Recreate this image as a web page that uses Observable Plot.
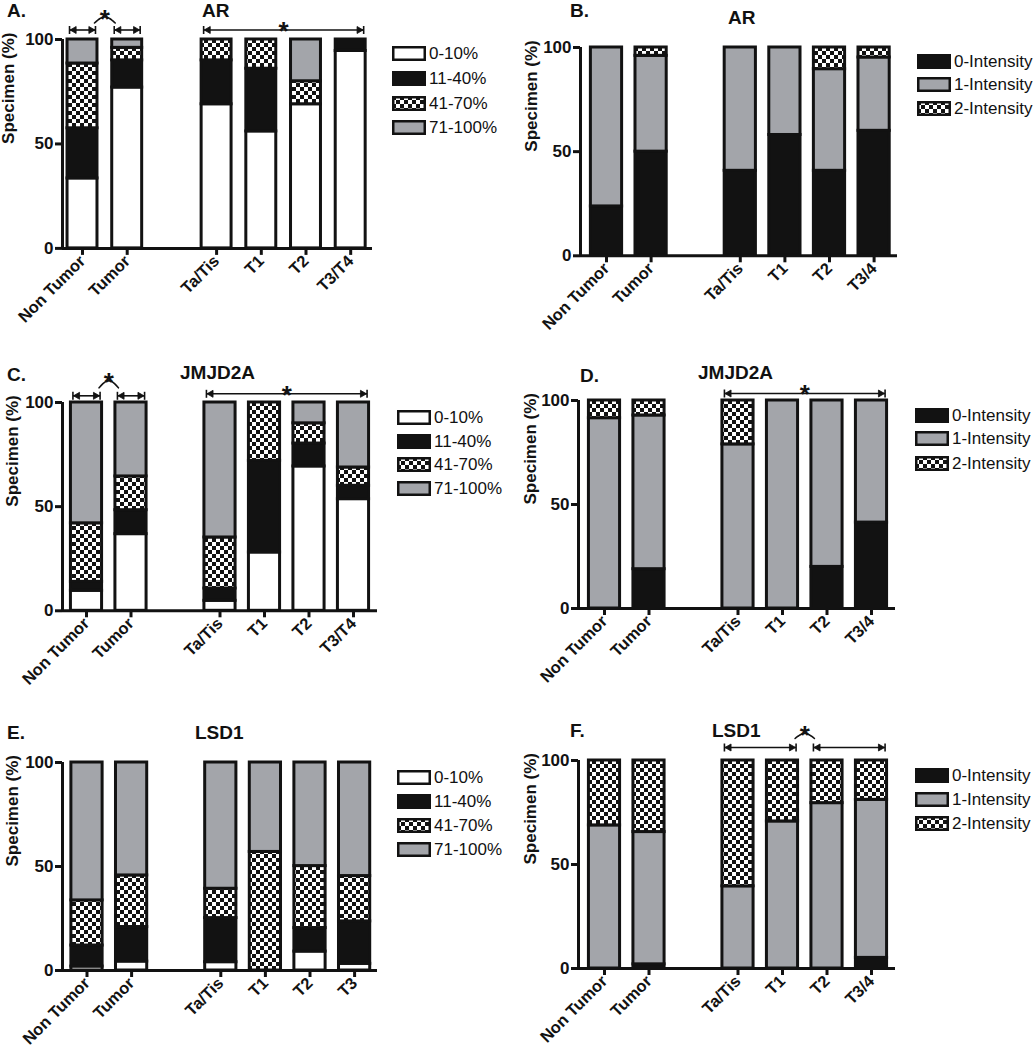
<!DOCTYPE html>
<html>
<head>
<meta charset="utf-8">
<script src="https://cdn.jsdelivr.net/npm/d3@7"></script>
<script src="https://cdn.jsdelivr.net/npm/@observablehq/plot@0.6"></script>
<style>
  html, body { margin: 0; padding: 0; background: #fff; }
  #root { position: relative; width: 1034px; height: 1050px; overflow: hidden; font-family: "Liberation Sans", Arial, Helvetica, sans-serif; color: #111; }
  .panel { position: absolute; }
  .panel svg { overflow: visible; }
  .ttl { position: absolute; font-weight: bold; font-size: 19px; line-height: 19px; white-space: nowrap; }
  .lg { position: absolute; display: flex; align-items: center; font-size: 17px; line-height: 17px; height: 16px; white-space: nowrap; }
  .lg svg { display: block; margin-right: 3px; }
  g[aria-label="x-axis tick label"], g[aria-label="y-axis tick label"] { font-weight: bold; }
</style>
</head>
<body>
<svg width="0" height="0" style="position:absolute">
  <defs>
    <pattern id="checker" width="8" height="8" patternUnits="userSpaceOnUse">
      <rect width="8" height="8" fill="#ffffff"/>
      <rect width="4" height="4" fill="#121212"/>
      <rect x="4" y="4" width="4" height="4" fill="#121212"/>
    </pattern>
  </defs>
</svg>
<div id="root"></div>
<script>
// ---------- DATA ----------
const pctLevels = ["0-10%", "11-40%", "41-70%", "71-100%"];
const intensityLevels = ["0-Intensity", "1-Intensity", "2-Intensity"];
const yTicks = [0, 50, 100];

// A. AR – percentage of positive cells
const catsA = ["Non Tumor", "Tumor", "Ta/Tis", "T1", "T2", "T3/T4"];
const arPct0_10   = [33.5, 77, 69, 56, 69, 94.5];
const arPct11_40  = [24, 13, 21, 30, 0, 5.5];
const arPct41_70  = [31, 6, 10, 14, 11, 0];
const arPct71_100 = [11.5, 4, 0, 0, 20, 0];

// B. AR – staining intensity
const catsB = ["Non Tumor", "Tumor", "Ta/Tis", "T1", "T2", "T3/4"];
const arInt0 = [23.7, 50, 40.8, 58, 40.8, 60];
const arInt1 = [76.3, 46, 59.2, 42, 48.8, 35.2];
const arInt2 = [0, 4, 0, 0, 10.4, 4.8];

// C. JMJD2A – percentage of positive cells
const catsC = ["Non Tumor", "Tumor", "Ta/Tis", "T1", "T2", "T3/T4"];
const jmPct0_10   = [9.6, 36.8, 4.8, 28, 69.3, 53.6];
const jmPct11_40  = [4.3, 11.5, 5.9, 44, 11, 6.4];
const jmPct41_70  = [28.1, 16.2, 24.5, 28, 9.7, 8.8];
const jmPct71_100 = [58, 35.5, 64.8, 0, 10, 31.2];

// D. JMJD2A – staining intensity
const catsD = ["Non Tumor", "Tumor", "Ta/Tis", "T1", "T2", "T3/4"];
const jmInt0 = [0, 18.9, 0, 0, 20, 41.3];
const jmInt1 = [91.5, 73.9, 78.9, 100, 80, 58.7];
const jmInt2 = [8.5, 7.2, 21.1, 0, 0, 0];

// E. LSD1 – percentage of positive cells
const catsE = ["Non Tumor", "Tumor", "Ta/Tis", "T1", "T2", "T3"];
const lsdPct0_10   = [1.9, 4.3, 4, 0, 9.1, 3.2];
const lsdPct11_40  = [10.1, 16.6, 21.2, 0, 11.3, 20.4];
const lsdPct41_70  = [21.7, 24.8, 14.1, 57, 29.8, 21.8];
const lsdPct71_100 = [66.3, 54.3, 60.7, 43, 49.8, 54.6];

// F. LSD1 – staining intensity
const catsF = ["Non Tumor", "Tumor", "Ta/Tis", "T1", "T2", "T3/4"];
const lsdInt0 = [0, 2, 0, 0, 0, 5.1];
const lsdInt1 = [68.8, 63.6, 39.5, 70.7, 79.5, 76];
const lsdInt2 = [31.2, 34.4, 60.5, 29.3, 20.5, 18.9];

// ---------- STYLE ----------
const INK = "#121212";
const GRAY = "#a3a5aa";
const fillsPct = ["#ffffff", INK, "url(#checker)", GRAY];
const fillsInt = [INK, GRAY, "url(#checker)"];

// ---------- PANELS ----------
const panels = [
  { letter: "A.", title: "AR", cats: catsA, levels: pctLevels, fills: fillsPct,
    series: [arPct0_10, arPct11_40, arPct41_70, arPct71_100],
    axisX: 62, first: 82, step: 44.7, xEnd: 372, y100: 39.4, y0: 248.3, hw: 0.335, ylabDx: -54,
    letterPos: [7, 1], titlePos: [202, 1],
    legendX: 392, legendY: [53, 78, 103, 127.5],
    pairs: [{ a: ["Non Tumor", "Non Tumor"], b: ["Tumor", "Tumor"], off: 9.5, arcEnd: 16.5, arcPeak: 22.5, star: 27 }],
    spans: [{ a: ["Ta/Tis", "T3/T4"], off: 9.5, star: 15 }] },
  { letter: "B.", title: "AR", cats: catsB, levels: intensityLevels, fills: fillsInt,
    series: [arInt0, arInt1, arInt2],
    axisX: 580, first: 606, step: 44.6, xEnd: 897, y100: 46.7, y0: 255, hw: 0.35, ylabDx: -49,
    letterPos: [570, 1], titlePos: [728, 8],
    legendX: 917, legendY: [61.5, 84.5, 108],
    pairs: [], spans: [] },
  { letter: "C.", title: "JMJD2A", cats: catsC, levels: pctLevels, fills: fillsPct,
    series: [jmPct0_10, jmPct11_40, jmPct41_70, jmPct71_100],
    axisX: 62, first: 86, step: 44.5, xEnd: 377, y100: 401.7, y0: 610, hw: 0.35, ylabDx: -50,
    letterPos: [7, 365], titlePos: [180, 363],
    legendX: 397, legendY: [417, 441, 464.5, 488],
    pairs: [{ a: ["Non Tumor", "Non Tumor"], b: ["Tumor", "Tumor"], off: 6.7, arcEnd: 14.7, arcPeak: 21.7, star: 27 }],
    spans: [{ a: ["Ta/Tis", "T3/T4"], off: 8.7, star: 14 }] },
  { letter: "D.", title: "JMJD2A", cats: catsD, levels: intensityLevels, fills: fillsInt,
    series: [jmInt0, jmInt1, jmInt2],
    axisX: 578, first: 604, step: 44.5, xEnd: 895, y100: 400, y0: 608, hw: 0.35, ylabDx: -48,
    letterPos: [580, 366], titlePos: [698, 363],
    legendX: 915, legendY: [415, 438.5, 463],
    pairs: [], spans: [{ a: ["Ta/Tis", "T3/4"], off: 7, star: 12.5 }] },
  { letter: "E.", title: "LSD1", cats: catsE, levels: pctLevels, fills: fillsPct,
    series: [lsdPct0_10, lsdPct11_40, lsdPct41_70, lsdPct71_100],
    axisX: 62, first: 86.5, step: 44.6, xEnd: 377, y100: 762, y0: 970, hw: 0.35, ylabDx: -50,
    letterPos: [7, 723], titlePos: [195, 723],
    legendX: 397, legendY: [777, 801, 825, 849],
    pairs: [], spans: [] },
  { letter: "F.", title: "LSD1", cats: catsF, levels: intensityLevels, fills: fillsInt,
    series: [lsdInt0, lsdInt1, lsdInt2],
    axisX: 578, first: 604, step: 44.5, xEnd: 895, y100: 760, y0: 968, hw: 0.35, ylabDx: -48,
    letterPos: [570, 721], titlePos: [712, 721],
    legendX: 915, legendY: [775, 799, 823],
    pairs: [{ a: ["Ta/Tis", "T1"], b: ["T2", "T3/4"], off: 13, arcEnd: 22, arcPeak: 27, star: 32 }],
    spans: [] }
];

const root = document.getElementById("root");
const STAR_FS = 26;

function drawPanel(p) {
  const ML = 62, MR = 4, MT = 60, MB = 110;
  const innerW = p.xEnd - p.axisX, innerH = p.y0 - p.y100;
  const width = ML + innerW + MR, height = MT + innerH + MB;
  const slotOf = (i) => i + (i >= 2 ? 1 : 0); // blank slot between Tumor and the stages
  const x0 = (p.axisX - p.first) / p.step, x1 = (p.xEnd - p.first) / p.step;
  const ppu = innerH / 100;     // px per percent
  const ppx = p.step;           // px per slot

  // stacked segments
  const rows = [];
  p.cats.forEach((c, i) => {
    let acc = 0;
    p.levels.forEach((lev, k) => {
      const v = p.series[k][i];
      if (v > 0) rows.push({ cat: c, s: slotOf(i), level: lev, y1: acc, y2: acc + v });
      acc += v;
    });
  });
  const slots = p.cats.map((c, i) => slotOf(i));
  const labelBySlot = new Map(p.cats.map((c, i) => [slotOf(i), c]));

  // significance annotations
  const idx = (name) => slotOf(p.cats.indexOf(name));
  const inset = 2 / ppx;
  const bracket = (ab, off) => ({ xa: idx(ab[0]) - p.hw + inset, xb: idx(ab[1]) + p.hw - inset, y: 100 + off / ppu });
  const brackets = [], arcs = [], stars = [];
  p.pairs.forEach((pr, j) => {
    const b1 = bracket(pr.a, pr.off), b2 = bracket(pr.b, pr.off);
    brackets.push(b1, b2);
    const xa = b1.xb - 1 / ppx, xb = b2.xa + 1 / ppx;
    const yE = 100 + pr.arcEnd / ppu, yP = 100 + pr.arcPeak / ppu;
    for (let t = 0; t <= 20; t++) {
      const u = t / 20;
      arcs.push({ z: j, x: xa + (xb - xa) * u, y: yE + (yP - yE) * Math.sin(Math.PI * u) });
    }
    stars.push({ x: (xa + xb) / 2, y: 100 + (pr.star - 0.26 * STAR_FS) / ppu });
  });
  p.spans.forEach((sp) => {
    const b = bracket(sp.a, sp.off);
    brackets.push(b);
    stars.push({ x: (b.xa + b.xb) / 2, y: 100 + (sp.star - 0.26 * STAR_FS) / ppu });
  });
  const capH = 4 / ppu;
  const caps = brackets.flatMap((b) => [
    { x: b.xa, y1: b.y - capH, y2: b.y + capH },
    { x: b.xb, y1: b.y - capH, y2: b.y + capH }
  ]);
  const heads = brackets.flatMap((b) => [
    { x: b.xa + 4.6 / ppx, y: b.y, rot: -90 },
    { x: b.xb - 4.6 / ppx, y: b.y, rot: 90 }
  ]);

  const chart = Plot.plot({
    width, height,
    marginLeft: ML, marginRight: MR, marginTop: MT, marginBottom: MB,
    x: { domain: [x0, x1], axis: null },
    y: { domain: [0, 100], axis: null },
    color: { type: "ordinal", domain: p.levels, range: p.fills },
    style: { fontFamily: '"Liberation Sans", Arial, Helvetica, sans-serif', color: INK, background: "transparent", overflow: "visible" },
    marks: [
      Plot.rectY(rows, {
        x1: (d) => d.s - p.hw, x2: (d) => d.s + p.hw, y1: "y1", y2: "y2",
        fill: "level", stroke: INK, strokeWidth: 3
      }),
      Plot.ruleY([0], { stroke: INK, strokeWidth: 3 }),
      Plot.ruleX([x0], { y1: 0, y2: 100, stroke: INK, strokeWidth: 3 }),
      Plot.axisY({ ticks: yTicks, tickSize: 7, tickPadding: 2, strokeWidth: 3, fontSize: 17, label: null }),
      Plot.axisX({ ticks: slots, tickFormat: (s) => labelBySlot.get(s), tickRotate: -45, tickSize: 7, tickPadding: 3, strokeWidth: 3, fontSize: 16.5, label: null }),
      Plot.text(["Specimen (%)"], { frameAnchor: "left", dx: p.ylabDx, rotate: -90, fontSize: 17, fontWeight: "bold", fill: INK }),
      Plot.link(brackets, { x1: "xa", x2: "xb", y1: "y", y2: "y", stroke: INK, strokeWidth: 1.6 }),
      Plot.link(caps, { x1: "x", x2: "x", y1: "y1", y2: "y2", stroke: INK, strokeWidth: 1.6 }),
      Plot.dot(heads, { x: "x", y: "y", symbol: "triangle", r: 2.6, rotate: "rot", fill: INK, stroke: INK, strokeWidth: 0.8 }),
      Plot.line(arcs, { x: "x", y: "y", z: "z", stroke: INK, strokeWidth: 1.6 }),
      Plot.text(stars, { x: "x", y: "y", text: () => "*", fontSize: STAR_FS, fontWeight: "bold", fill: INK, lineAnchor: "middle" })
    ]
  });

  const wrap = document.createElement("div");
  wrap.className = "panel";
  wrap.style.left = (p.axisX - ML) + "px";
  wrap.style.top = (p.y100 - MT) + "px";
  wrap.appendChild(chart);
  root.appendChild(wrap);

  // titles
  const l = document.createElement("div");
  l.className = "ttl"; l.textContent = p.letter;
  l.style.left = p.letterPos[0] + "px"; l.style.top = p.letterPos[1] + "px";
  root.appendChild(l);
  const t = document.createElement("div");
  t.className = "ttl"; t.textContent = p.title;
  t.style.left = p.titlePos[0] + "px"; t.style.top = p.titlePos[1] + "px";
  root.appendChild(t);

  // legend
  p.levels.forEach((lev, k) => {
    const row = document.createElement("div");
    row.className = "lg";
    row.style.left = p.legendX + "px";
    row.style.top = (p.legendY[k] - 8) + "px";
    row.innerHTML = '<svg width="34" height="15"><rect x="1.25" y="1.25" width="31.5" height="12.5" fill="' +
      p.fills[k] + '" stroke="' + INK + '" stroke-width="2.5"/></svg><span>' + lev + '</span>';
    root.appendChild(row);
  });
}

panels.forEach(drawPanel);
</script>
</body>
</html>
